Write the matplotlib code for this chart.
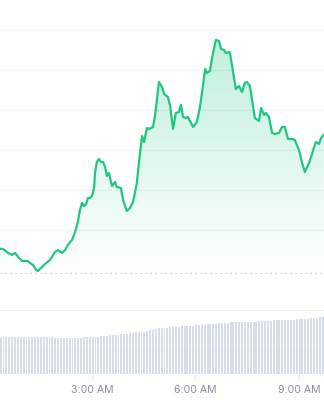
import numpy as np
import matplotlib.pyplot as plt
from matplotlib.patches import Polygon

# Prix (heures depuis minuit -> valeur)
heures = [0.33, 0.42, 0.57, 0.68, 0.77, 0.86, 0.97, 1.14, 1.20, 1.29, 1.38, 1.43, 1.55, 1.64,
          1.78, 1.93, 2.01, 2.13, 2.22, 2.30, 2.42, 2.51, 2.59, 2.65, 2.71, 2.77, 2.83, 2.88,
          2.94, 3.00, 3.06, 3.09, 3.14, 3.20, 3.26, 3.32, 3.38, 3.43, 3.49, 3.58, 3.67, 3.72,
          3.84, 3.90, 4.01, 4.10, 4.19, 4.30, 4.36, 4.45, 4.51, 4.59, 4.65, 4.77, 4.83, 4.94,
          5.03, 5.09, 5.20, 5.26, 5.35, 5.43, 5.52, 5.58, 5.64, 5.72, 5.78, 5.90, 5.93, 6.04,
          6.13, 6.22, 6.28, 6.33, 6.42, 6.48, 6.59, 6.68, 6.74, 6.83, 6.88, 6.97, 7.00, 7.09,
          7.17, 7.26, 7.35, 7.43, 7.49, 7.58, 7.64, 7.72, 7.84, 7.90, 7.99, 8.04, 8.13, 8.22,
          8.30, 8.42, 8.51, 8.59, 8.68, 8.80, 8.88, 9.00, 9.09, 9.17, 9.29, 9.35, 9.43, 9.49,
          9.58, 9.64, 9.72]
prix = [17.63, 17.63, 17.13, 16.88, 17.13, 16.63, 16.13, 16.13, 15.88, 15.63, 15.00, 14.88, 15.38, 15.75,
        16.25, 17.25, 17.50, 17.13, 17.50, 18.13, 18.75, 19.75, 21.00, 22.50, 23.38, 23.00, 23.25, 24.00,
        24.00, 24.25, 25.25, 27.25, 28.50, 28.88, 28.50, 28.50, 27.88, 26.75, 27.13, 25.50, 26.00, 25.38,
        25.25, 23.75, 22.38, 22.75, 23.50, 25.88, 28.38, 31.75, 31.00, 32.75, 32.63, 32.88, 34.38, 38.50,
        37.88, 37.00, 36.63, 35.63, 32.63, 34.63, 34.75, 35.63, 34.13, 34.00, 34.13, 33.13, 32.88, 33.50,
        35.38, 38.13, 40.13, 39.63, 39.88, 41.50, 43.75, 43.63, 42.63, 42.50, 42.13, 42.25, 42.13, 39.75,
        37.63, 38.00, 37.25, 38.38, 38.50, 38.00, 36.25, 34.00, 33.63, 35.25, 34.38, 34.63, 34.13, 32.13,
        32.00, 32.13, 32.88, 32.88, 31.38, 31.38, 31.25, 30.00, 28.38, 27.25, 28.38, 29.13, 30.25, 31.00,
        30.75, 31.50, 31.88]
prix_ouverture = 14.63

# Volume (une barre toutes les 5 minutes)
volume = [46.3, 46.0, 46.3, 46.3, 46.0, 46.3, 46.3, 46.3, 46.0, 46.3, 46.3, 46.0, 46.3, 46.3, 46.3,
          46.0, 46.3, 46.3, 46.0, 45.0, 45.0, 45.0, 45.3, 45.0, 45.0, 45.0, 45.3, 45.0, 45.3, 46.3,
          46.3, 46.5, 46.3, 46.5, 46.5, 47.5, 47.5, 48.0, 48.5, 48.5, 49.0, 49.5, 50.0, 50.5, 50.5,
          51.0, 51.5, 52.0, 52.5, 53.0, 53.0, 54.0, 55.0, 55.5, 56.0, 57.0, 57.5, 58.0, 58.0, 58.5,
          58.5, 59.0, 59.0, 59.5, 59.5, 60.0, 60.0, 60.5, 61.0, 61.0, 61.5, 61.5, 62.0, 62.5, 63.0,
          63.0, 63.5, 64.0, 64.0, 64.0, 64.5, 64.5, 64.5, 65.0, 65.0, 65.0, 65.0, 65.5, 65.5, 65.5,
          66.0, 66.0, 66.5, 66.5, 66.5, 67.0, 67.0, 67.5, 67.5, 67.5, 68.0, 68.0, 68.0, 68.5, 68.5,
          68.5, 69.0, 69.0, 69.5, 70.0, 70.5, 71.0, 71.0]
heures_vol = 0.35 + np.arange(len(volume)) / 12

ticks = [3, 6, 9]
tick_labels = ['3:00 AM', '6:00 AM', '9:00 AM']

vert = '#1ec780'
xlim = (0.333, 9.725)

fig = plt.figure(figsize=(3.24, 4.0), dpi=100)
ax = fig.add_axes([0, 0.225, 1, 0.775])
axv = fig.add_axes([0, 0.065, 1, 0.16], sharex=ax)

# graphique du prix
ax.set_xlim(*xlim)
ax.set_ylim(10, 48.75)
for g in [20, 25, 30, 35, 40, 45]:
    ax.axhline(g, color='#f2f2f2', lw=0.8, zorder=0)
ax.axhline(prix_ouverture, color='#b8bcc6', lw=0.9, ls=(0, (1, 3)), zorder=1)

# remplissage dégradé sous la courbe
verts = list(zip(heures, prix)) + [(heures[-1], 10), (heures[0], 10)]
poly = Polygon(verts, closed=True, facecolor='none', edgecolor='none')
ax.add_patch(poly)
grad = np.zeros((200, 2, 4))
grad[..., 0] = 0x1e / 255
grad[..., 1] = 0xc7 / 255
grad[..., 2] = 0x80 / 255
a = np.linspace(0.28, 0.0, 200)
grad[..., 3] = a[:, None]
im = ax.imshow(grad, extent=[xlim[0], xlim[1], 14.0, 44.0], origin='upper',
               aspect='auto', zorder=1, interpolation='bilinear')
im.set_clip_path(poly)

ax.plot(heures, prix, color=vert, lw=1.6, zorder=3, solid_joinstyle='round')
ax.axis('off')

# graphique du volume
axv.bar(heures_vol, volume, width=0.055, color='#d6dcea', zorder=2)
axv.set_ylim(0, 80)
axv.axhline(30, color='#f2f2f2', lw=0.8, zorder=0)
axv.axhline(80, color='#f0f0f0', lw=1.0, zorder=0)
for s in axv.spines.values():
    s.set_visible(False)
axv.set_yticks([])
axv.set_xticks(ticks)
axv.set_xticklabels(tick_labels)
axv.tick_params(axis='x', length=4, width=0.6, color='#e3e5ea', pad=4,
                labelsize=7.6, labelcolor='#8a90a2')
for t in axv.get_xticklabels():
    t.set_fontfamily('Inter')

fig.savefig('out.png', dpi=100, facecolor='white')
